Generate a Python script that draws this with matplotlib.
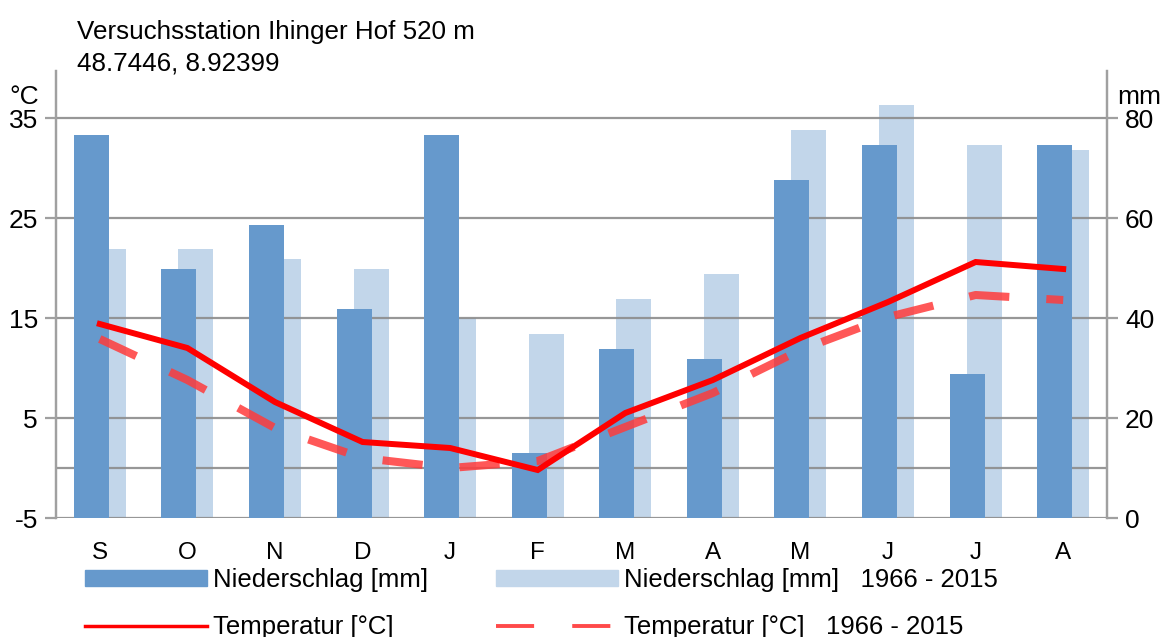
#!/usr/bin/env python3

"""Climate diagram for Versuchsstation Ihinger Hof (precipitation bars and temperature lines)."""

from matplotlib import pyplot as plt
from matplotlib.lines import Line2D
from matplotlib.patches import Patch

months = ["S", "O", "N", "D", "J", "F", "M", "A", "M", "J", "J", "A"]

# precipitation in mm, current year and 1966 - 2015 mean
rain = [76.6, 49.8, 58.6, 41.8, 76.6, 13.0, 33.8, 31.8, 67.6, 74.6, 28.8, 74.6]
rain_mean = [53.8, 53.8, 51.8, 49.8, 40.0, 36.8, 43.8, 48.8, 77.6, 82.6, 74.6, 73.6]

# temperature in degC, current year and 1966 - 2015 mean
temp = [14.4, 12.0, 6.6, 2.6, 2.0, -0.2, 5.5, 8.8, 13.0, 16.6, 20.6, 19.9]
temp_mean = [12.9, 8.8, 4.0, 1.0, 0.0, 0.7, 4.1, 7.5, 11.8, 15.1, 17.3, 16.8]

temp_ticks = [-5, 5, 15, 25, 35]
rain_ticks = [0, 20, 40, 60, 80]

plt.rcParams["font.family"] = ["Liberation Sans", "DejaVu Sans"]

DARK = "#6699cc"
LIGHT = "#c2d6ea"
GRID = "#8c8c8c"
FS = 19
LFS = 18.5

fig = plt.figure(figsize=(11.66, 6.37), dpi=100)
ax = fig.add_axes([56 / 1166, 1 - 518 / 637, (1107 - 56) / 1166, (518 - 71) / 637])
ax2 = ax.twinx()
ax.set_zorder(ax2.get_zorder() + 1)
ax.patch.set_visible(False)

x = list(range(len(months)))
off = 0.097
ax2.bar([i + off for i in x], rain_mean, width=0.4, color=LIGHT, zorder=1)
ax2.bar([i - off for i in x], rain, width=0.4, color=DARK, zorder=3)

ax.plot(x, temp_mean, color="#ff3b3b", alpha=0.85, lw=5.8,
        dashes=(5.0, 4.6), solid_capstyle="butt", dash_capstyle="butt")
ax.plot(x, temp, color="#ff0000", lw=4.3, solid_joinstyle="miter")

ax.set_xlim(-0.5, 11.5)
ax.set_ylim(-5, 39.7)
ax2.set_ylim(0, 89.4)

ax.set_yticks(temp_ticks)
ax.set_yticklabels([str(t) for t in temp_ticks])
ax2.set_yticks(rain_ticks)
ax2.set_yticklabels([str(t) for t in rain_ticks])
ax2.set_yticks([10], minor=True)
ax2.set_axisbelow("line")
ax2.grid(axis="y", which="both", color=GRID, lw=1.6, alpha=0.9)

for a in (ax, ax2):
    for s in ("top", "bottom"):
        a.spines[s].set_visible(False)
    for s in ("left", "right"):
        a.spines[s].set_color("#a0a0a0")
        a.spines[s].set_linewidth(1.6)
    a.tick_params(axis="y", which="major", direction="out", length=8, width=1.6,
                  color="#a0a0a0", labelsize=FS, pad=5)
    a.tick_params(axis="y", which="minor", length=0)

ax.set_xticks(x)
ax.set_xticklabels(months, fontsize=17.5)
ax.tick_params(axis="x", length=0, pad=17)
ax2.tick_params(axis="x", length=0, labelbottom=False)

fig.text(9 / 1166, 1 - 104 / 637, "°C", fontsize=FS, va="baseline")
fig.text(1117 / 1166, 1 - 104 / 637, "mm", fontsize=FS, va="baseline")
fig.text(77 / 1166, 1 - 39 / 637, "Versuchsstation Ihinger Hof 520 m", fontsize=18.7, va="baseline")
fig.text(77 / 1166, 1 - 71 / 637, "48.7446, 8.92399", fontsize=18.7, va="baseline")

handles = [
    Patch(color=DARK),
    Line2D([], [], color="#ff0000", lw=2.5),
    Patch(color=LIGHT),
    Line2D([], [], color="#ff4a4a", lw=2.8, dashes=(9.8, 9.8), dash_capstyle="butt"),
]
labels = ["Niederschlag [mm]", "Temperatur [°C]",
          "Niederschlag [mm]   1966 - 2015", "Temperatur [°C]   1966 - 2015"]
fpx = LFS * 100 / 72
fig.legend(handles, labels, ncol=2, loc="upper left",
           bbox_to_anchor=(85 / 1166, 1 - 568 / 637), frameon=False,
           fontsize=LFS, borderpad=0, borderaxespad=0, handlelength=122 / fpx,
           handleheight=15 / fpx, handletextpad=6 / fpx, columnspacing=68 / fpx,
           labelspacing=0.9)

plt.savefig("out.png", dpi=100)
